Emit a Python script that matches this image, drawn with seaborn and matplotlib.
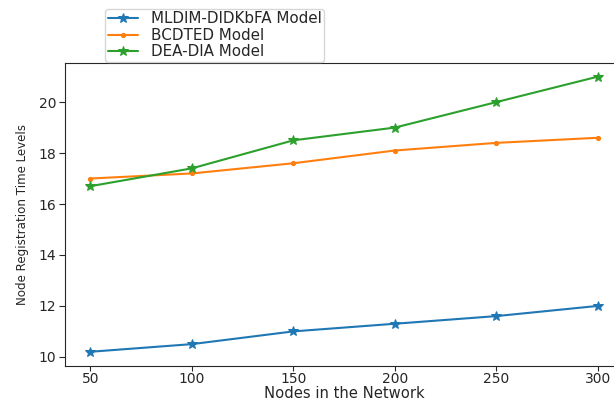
import numpy as np
import pandas as pd
import matplotlib
matplotlib.use("Agg")
import matplotlib.pyplot as plt
import seaborn as sns

# data
nodes = [50, 100, 150, 200, 250, 300]
mldim = [10.2, 10.5, 11.0, 11.3, 11.6, 12.0]
bcdted = [17.0, 17.2, 17.6, 18.1, 18.4, 18.6]
dea_dia = [16.7, 17.4, 18.5, 19.0, 20.0, 21.0]

series_names = ["MLDIM-DIDKbFA Model", "BCDTED Model", "DEA-DIA Model"]
series_markers = ["*", ".", "*"]

df = pd.DataFrame({"Nodes": nodes * 3,
                   "Value": mldim + bcdted + dea_dia,
                   "Model": np.repeat(series_names, len(nodes))})

sns.set_style("ticks")
plt.rcParams["font.family"] = ["DejaVu Sans"]

fig = plt.figure(figsize=(6.14, 4.03), dpi=100)
ax = fig.add_axes([0.106, 0.093, 0.909, 0.751])

palette = ["#1f77b4", "#ff7f0e", "#2ca02c"]
for name, mk, col in zip(series_names, series_markers, palette):
    sub = df[df["Model"] == name]
    sns.lineplot(data=sub, x="Nodes", y="Value", ax=ax, color=col,
                 marker=mk, markersize=7 if mk == "*" else 6,
                 markeredgecolor=col, label=name, linewidth=1.5)

ax.set_xticks(nodes)
ax.set_yticks([10, 12, 14, 16, 18, 20])
ax.tick_params(labelsize=10, length=4, pad=2.5)
ax.tick_params(axis="x", length=3.5, pad=1.5)
ax.set_xlabel("Nodes in the Network", fontsize=10.6, labelpad=0)
# condensed look of the y label in the reference
ax.set_ylabel("Node Registration Time Levels", fontsize=8.6, labelpad=7,
              family=["DejaVu Sans Condensed", "Liberation Sans Narrow", "DejaVu Sans"])
for s in ax.spines.values():
    s.set_visible(True)

ax.legend(loc="lower left", bbox_to_anchor=(0.171, 0.846),
          bbox_transform=fig.transFigure, fontsize=10.9, frameon=True,
          borderaxespad=0, labelspacing=0.1, borderpad=0.17,
          handlelength=2.0, handletextpad=0.85)

fig.savefig("out.png", dpi=100)
